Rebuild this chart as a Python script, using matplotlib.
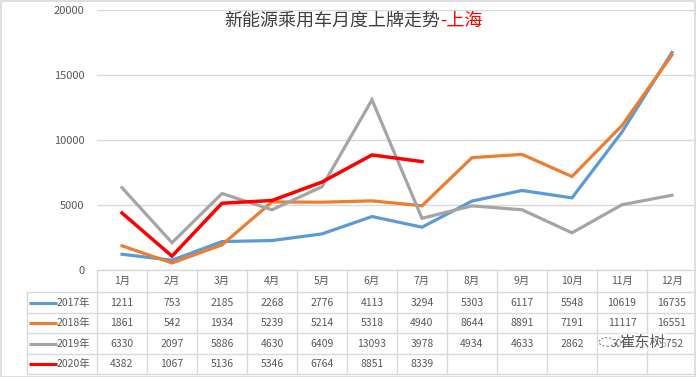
import matplotlib
matplotlib.use("Agg")
import matplotlib.pyplot as plt
from matplotlib.patches import Rectangle, Circle
import numpy as np

plt.rcParams["font.family"] = ["Noto Sans CJK SC", "DejaVu Sans"]

months = ["1月", "2月", "3月", "4月", "5月", "6月", "7月", "8月", "9月", "10月", "11月", "12月"]
years = ["2017年", "2018年", "2019年", "2020年"]
v2017 = [1211, 753, 2185, 2268, 2776, 4113, 3294, 5303, 6117, 5548, 10619, 16735]
v2018 = [1861, 542, 1934, 5239, 5214, 5318, 4940, 8644, 8891, 7191, 11117, 16551]
v2019 = [6330, 2097, 5886, 4630, 6409, 13093, 3978, 4934, 4633, 2862, 5020, 5752]
v2020 = [4382, 1067, 5136, 5346, 6764, 8851, 8339]
series = [v2017, v2018, v2019, v2020]
colors = ["#5B9BD5", "#ED7D31", "#A5A5A5", "#FF0000"]
title = "新能源乘用车月度上牌走势"
title_red = "-上海"

W, H = 696, 377
fig = plt.figure(figsize=(W / 100, H / 100), dpi=100)
fig.patches.append(Rectangle((0.5 / W, 0.5 / H), 1 - 1.5 / W, 1 - 1.5 / H, transform=fig.transFigure,
                             fill=False, edgecolor="#D9D9D9", lw=1.2))

def px(x0, y0, x1, y1):
    return [x0 / W, 1 - y1 / H, (x1 - x0) / W, (y1 - y0) / H]

# line plot
ax = fig.add_axes(px(97, 10, 697, 270))
x = np.arange(12) + 0.5
for vals, c in zip(series, colors):
    lw = 2.5 if c == "#FF0000" else 2.3
    ax.plot(x[:len(vals)], vals, color=c, lw=lw, solid_joinstyle="miter", zorder=3)
ax.set_xlim(0, 12)
ax.set_ylim(0, 20000)
ax.set_yticks(range(0, 20001, 5000))
ax.grid(axis="y", color="#D9D9D9", lw=1)
ax.set_xticks([])
for s in ax.spines.values():
    s.set_visible(False)
ax.tick_params(axis="y", length=0, pad=9, labelsize=8, labelcolor="#595959")

fig.text(440 / W, 1 - 21 / H, title, ha="right", va="center", fontsize=13, color="#404040")
fig.text(440 / W, 1 - 21 / H, title_red, ha="left", va="center", fontsize=13, color="#FF0000")

# data table
tb = fig.add_axes(px(27, 270, 697, 374))
tb.set_xlim(-1.4, 12)
tb.set_ylim(5, 0)
tb.axis("off")
gc = "#D9D9D9"
rows_y = [0, 1.07, 2.07, 3.05, 4.03, 5]
for y in rows_y:
    x0 = 0 if y == 0 else -1.4
    tb.plot([x0, 12], [y, y], color=gc, lw=1, clip_on=False)
for i in range(13):
    tb.plot([i, i], [0, 5], color=gc, lw=1, clip_on=False)
tb.plot([-1.4, -1.4], [rows_y[1], 5], color=gc, lw=1, clip_on=False)
for i, m in enumerate(months):
    tb.text(i + 0.5, (rows_y[0] + rows_y[1]) / 2, m, ha="center", va="center", fontsize=7.5, color="#595959")
for r, (yr, vals, c) in enumerate(zip(years, series, colors)):
    yc = (rows_y[r + 1] + rows_y[r + 2]) / 2
    tb.plot([-1.36, -0.8], [yc, yc], color=c, lw=2.2, solid_capstyle="butt", clip_on=False)
    tb.text(-0.8, yc, yr, ha="left", va="center", fontsize=7.5, color="#595959")
    for i, v in enumerate(vals):
        tb.text(i + 0.5, yc, str(v), ha="center", va="center", fontsize=7.5, color="#595959")

# watermark
fig.patches.append(Circle((607 / W, 1 - 342 / H), 8 / W, transform=fig.transFigure, fill=True,
                          facecolor="white", edgecolor="#8C8C8C", lw=0.8, ls=(0, (2, 1.5)), zorder=5))
fig.text(620 / W, 1 - 342 / H, "崔东树", ha="left", va="center", fontsize=11, color="#595959",
         zorder=6, bbox=dict(facecolor="white", edgecolor="none", alpha=0.55, pad=0.5))

fig.savefig("out.png", dpi=100)
plt.close(fig)
